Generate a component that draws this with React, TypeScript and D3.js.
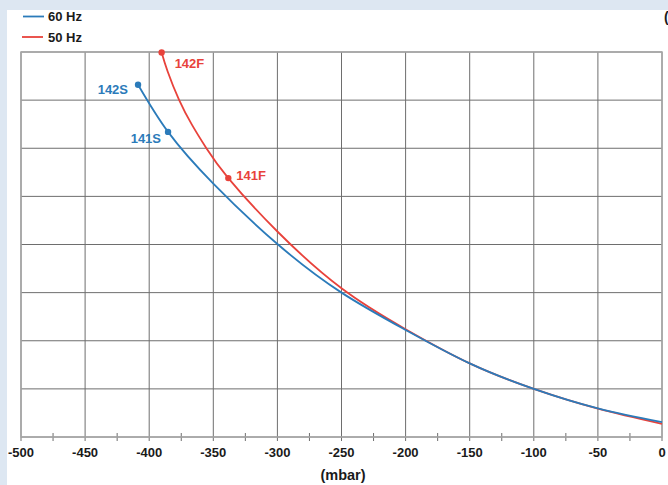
import React from "react";
import * as d3 from "d3";

const xTicks = [-500, -450, -400, -350, -300, -250, -200, -150, -100, -50, 0];
const minorTicks = [-475, -425, -375, -325, -275, -225, -175, -125, -75, -25];
const yGrid = [0, 20, 40, 60, 80, 100, 120, 140, 160];

const hz60X = [-408.7, -385.3, -350, -300, -250, -200, -150, -100, -50, 0];
const hz60Y = [146.4, 126.8, 105.3, 80.2, 60.0, 44.5, 30.6, 20.0, 11.9, 6.2];
const hz50X = [-390.3, -385.6, -376.7, -366.6, -355.4, -338.3, -300, -250, -200, -150, -100, -50, 0];
const hz50Y = [159.8, 151.9, 140.1, 129.7, 120.0, 107.6, 85.4, 61.8, 44.8, 30.6, 20.0, 11.8, 5.5];

const pointNames = ["142S", "141S", "142F", "141F"];
const pointX = [-408.7, -385.3, -390.3, -338.3];
const pointY = [146.4, 126.8, 159.8, 107.6];
const pointSeries = [0, 0, 1, 1];

const BLUE = "#2b7bba";
const RED = "#e8423b";
const FONT = "Arial, 'Liberation Sans', Helvetica, sans-serif";

export default function App() {
  const W = 668, H = 485;
  const x = d3.scaleLinear().domain([-500, 0]).range([21, 662]);
  const y = d3.scaleLinear().domain([0, 160]).range([437, 52]);
  const line = d3
    .line<[number, number]>()
    .x((d) => x(d[0]))
    .y((d) => y(d[1]))
    .curve(d3.curveNatural);
  const blue = hz60X.map((v, i) => [v, hz60Y[i]] as [number, number]);
  const red = hz50X.map((v, i) => [v, hz50Y[i]] as [number, number]);
  const labelOff: [number, number, string][] = [
    [-10, 9, "end"],
    [-7, 11, "end"],
    [13, 15.5, "start"],
    [8, 2, "start"],
  ];
  return (
    <svg
      width={W}
      height={H}
      style={{ position: "fixed", left: 0, top: 0 }}
      fontFamily={FONT}
    >
      <rect x={0} y={0} width={W} height={H} fill="#dde7f2" />
      <rect x={7} y={10} width={W - 7} height={H - 10} fill="#ffffff" />
      {/* grid */}
      {xTicks.map((t) => (
        <line key={"vx" + t} x1={x(t)} x2={x(t)} y1={y(160)} y2={441} stroke="#6e6e6e" strokeWidth={1} />
      ))}
      {yGrid.map((t) => (
        <line key={"hy" + t} x1={x(-500)} x2={x(0)} y1={y(t)} y2={y(t)} stroke="#6e6e6e" strokeWidth={1} />
      ))}
      {minorTicks.map((t) => (
        <line key={"mt" + t} x1={x(t)} x2={x(t)} y1={433} y2={441} stroke="#6e6e6e" strokeWidth={1} />
      ))}
      <rect x={x(-500)} y={y(160)} width={x(0) - x(-500)} height={y(0) - y(160)} fill="none" stroke="#a8a8a8" strokeWidth={1.5} />
      {/* tick labels */}
      {xTicks.map((t) => (
        <text key={"tl" + t} x={x(t)} y={457} textAnchor="middle" fontSize={13} fontWeight="bold" fill="#1a1a1a">
          {t}
        </text>
      ))}
      <text x={343} y={480} textAnchor="middle" fontSize={14.5} fontWeight="bold" fill="#1a1a1a">
        (mbar)
      </text>
      <text x={664} y={22} fontSize={14} fontWeight="bold" fill="#1a1a1a">
        (m³/h)
      </text>
      {/* curves */}
      <path d={line(red) || ""} fill="none" stroke={RED} strokeWidth={1.8} />
      <path d={line(blue) || ""} fill="none" stroke={BLUE} strokeWidth={1.8} />
      {pointNames.map((n, i) => {
        const c = pointSeries[i] === 0 ? BLUE : RED;
        const px = x(pointX[i]);
        const py = y(pointY[i]);
        return (
          <g key={n}>
            <circle cx={px} cy={py} r={3.2} fill={c} />
            <text x={px + labelOff[i][0]} y={py + labelOff[i][1]} textAnchor={labelOff[i][2] as any} fontSize={13} fontWeight="bold" fill={c}>
              {n}
            </text>
          </g>
        );
      })}
      {/* legend */}
      <line x1={23} x2={44} y1={16.5} y2={16.5} stroke={BLUE} strokeWidth={1.8} />
      <text x={48} y={21} fontSize={13} fontWeight="bold" fill="#1a1a1a">60 Hz</text>
      <line x1={22} x2={43} y1={37} y2={37} stroke={RED} strokeWidth={1.8} />
      <text x={48} y={42} fontSize={13} fontWeight="bold" fill="#1a1a1a">50 Hz</text>
    </svg>
  );
}
